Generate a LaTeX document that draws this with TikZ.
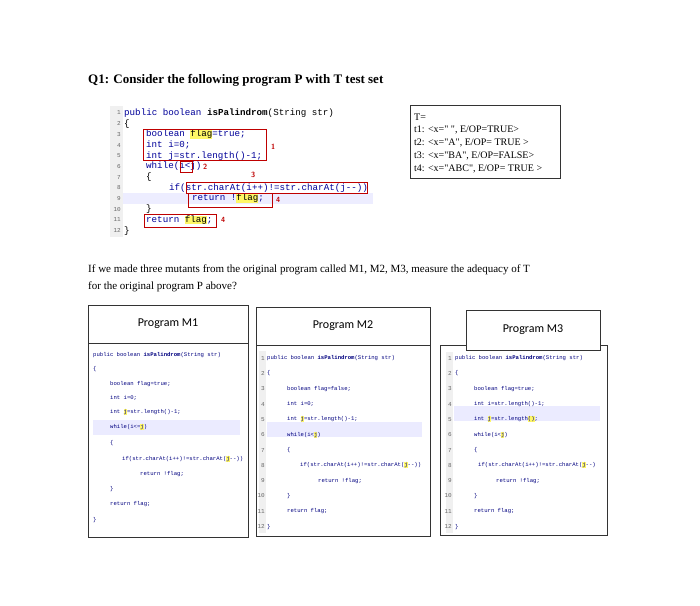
\documentclass[tikz,border=0pt]{standalone}
\usepackage{fontspec}
\setmainfont{Liberation Serif}
\newfontfamily\cod{Liberation Mono}
\newfontfamily\hdr{Carlito}
\begin{document}
\begin{tikzpicture}[x=1pt,y=-1pt,
  txt/.style={anchor=west,inner sep=0pt},
  tc/.style={txt,font=\cod\fontsize{9.2}{10}\selectfont},
  mc/.style={txt,font=\cod\fontsize{5.6}{7}\selectfont,text=blue!50!black},
  ln/.style={anchor=east,inner sep=0pt,font=\cod\fontsize{6}{7}\selectfont,text=gray!80!black},
  rb/.style={draw=red!75!black,line width=0.6pt},
  rl/.style={txt,font=\sffamily\bfseries\fontsize{7.5}{8}\selectfont,text=red!75!black},
  box/.style={draw=black!80,line width=0.6pt}]
\newcommand\kw[1]{\textcolor{blue!60!black}{#1}}
\newcommand\hy[1]{{\setlength\fboxsep{0pt}\colorbox{yellow!60}{#1}}}
\useasboundingbox (0,0) rectangle (700,605);
\fill[white] (0,0) rectangle (700,605);
\node[txt,font=\bfseries\fontsize{13}{15}\selectfont] (title) at (88,80) {Q1: Consider the following program P with T test set};
% top code
\fill[gray!12] (110,106) rectangle (123,237);
\fill[blue!7] (123,193) rectangle (373,204);
\foreach \i in {1,...,12}{\node[ln] (n\i) at (121,{113+10.7*(\i-1)}) {\i};}
\node[tc] (c1) at (124,113) {\kw{public boolean} \textbf{isPalindrom}(String str)};
\node[tc] (c2) at (124,123.7) {\{};
\node[tc] (c3) at (146,134.4) {\kw{boolean} \hy{flag}\kw{=true;}};
\node[tc] (c4) at (146,145.1) {\kw{int i=0;}};
\node[tc] (c5) at (146,155.8) {\kw{int j=str.length()-1;}};
\node[tc] (c6) at (146,166.5) {\kw{while(i<j)}};
\node[tc] (c7) at (146,177.2) {\{};
\node[tc] (c8) at (169,187.9) {\kw{if(str.charAt(i++)!=str.charAt(j{-}{-}))}};
\node[tc] (c9) at (192,198.6) {\kw{return !}\hy{flag}\kw{;}};
\node[tc] (c10) at (146,209.3) {\}};
\node[tc] (c11) at (146,220) {\kw{return} \hy{flag}\kw{;}};
\node[tc] (c12) at (124,230.7) {\}};
\draw[rb] (143,129) rectangle (266,160);
\node[rl] (l1) at (271,147) {1};
\draw[rb] (180,161) rectangle (192,172);
\node[rl] (l2) at (203,167) {2};
\node[rl] (l3) at (251,175) {3};
\draw[rb] (186,182.5) rectangle (367,193);
\draw[rb] (188,193) rectangle (272,207);
\node[rl] (l4) at (276,200) {4};
\draw[rb] (144,214) rectangle (216,227);
\node[rl] (l5) at (221,220) {4};
% T box
\draw[box] (410,105) rectangle (560,178);
\begin{scope}[every node/.style={txt,font=\fontsize{10}{11}\selectfont}]
\node (t0) at (414,117) {T=};
\node (t1) at (414,130) {t1: <x=\textquotedbl\ \textquotedbl, E/OP=TRUE>};
\node (t2) at (414,143) {t2: <x=\textquotedbl A\textquotedbl, E/OP= TRUE >};
\node (t3) at (414,156) {t3: <x=\textquotedbl BA\textquotedbl, E/OP=FALSE>};
\node (t4) at (414,169) {t4: <x=\textquotedbl ABC\textquotedbl, E/OP= TRUE >};
\end{scope}
\node[txt,font=\fontsize{11}{13}\selectfont] (p1) at (88,270) {If we made three mutants from the original program called M1, M2, M3, measure the adequacy of T};
\node[txt,font=\fontsize{11}{13}\selectfont] (p2) at (88,287) {for the original program P above?};
% M1
\draw[box] (88,305) rectangle (248,343);
\draw[box] (88,343) rectangle (248,537);
\node[font=\hdr\fontsize{12}{13}\selectfont] (h1) at (168,324) {Program M1};
\fill[blue!8] (93,420) rectangle (240,435);
\node[mc] (a1) at (93,355) {public boolean \textbf{isPalindrom}(String str)};
\node[mc] (a2) at (93,369) {\{};
\node[mc] (a3) at (110,384) {boolean flag=true;};
\node[mc] (a4) at (110,398) {int i=0;};
\node[mc] (a5) at (110,412) {int \hy{j}=str.length()-1;};
\node[mc] (a6) at (110,427) {while(i<=\hy{j})};
\node[mc] (a7) at (110,443) {\{};
\node[mc] (a8) at (122,459) {if(str.charAt(i++)!=str.charAt(\hy{j}{-}{-}))};
\node[mc] (a9) at (140,474) {return !flag;};
\node[mc] (a10) at (110,489) {\}};
\node[mc] (a11) at (110,504) {return flag;};
\node[mc] (a12) at (93,520) {\}};
% M2
\draw[box] (256,307) rectangle (430,345);
\draw[box] (256,345) rectangle (430,536);
\node[font=\hdr\fontsize{12}{13}\selectfont] (h2) at (343,326) {Program M2};
\fill[gray!12] (259,351) rectangle (266,533);
\fill[blue!8] (267,422) rectangle (422,437);
\foreach \i in {1,...,12}{\node[ln] (m\i) at (265,{343+15.3*\i}) {\i};}
\node[mc] (b1) at (267,358) {public boolean \textbf{isPalindrom}(String str)};
\node[mc] (b2) at (267,373) {\{};
\node[mc] (b3) at (287,389) {boolean flag=false;};
\node[mc] (b4) at (287,404) {int i=0;};
\node[mc] (b5) at (287,419) {int \hy{j}=str.length()-1;};
\node[mc] (b6) at (287,435) {while(i<\hy{j})};
\node[mc] (b7) at (287,450) {\{};
\node[mc] (b8) at (300,465) {if(str.charAt(i++)!=str.charAt(\hy{j}{-}{-}))};
\node[mc] (b9) at (318,481) {return !flag;};
\node[mc] (b10) at (287,496) {\}};
\node[mc] (b11) at (287,511) {return flag;};
\node[mc] (b12) at (267,527) {\}};
% M3
\draw[box] (440,345) rectangle (607,535);
\draw[box,fill=white] (466,310) rectangle (600,350);
\node[font=\hdr\fontsize{12}{13}\selectfont] (h3) at (533,330) {Program M3};
\fill[gray!12] (446,352) rectangle (453,533);
\fill[blue!8] (454,406) rectangle (600,421);
\foreach \i in {1,...,12}{\node[ln] (k\i) at (452,{343+15.3*\i}) {\i};}
\node[mc] (d1) at (455,358) {public boolean \textbf{isPalindrom}(String str)};
\node[mc] (d2) at (455,373) {\{};
\node[mc] (d3) at (474,389) {boolean flag=true;};
\node[mc] (d4) at (474,404) {int i=str.length()-1;};
\node[mc] (d5) at (474,419) {int \hy{j}=str.length\hy{()};};
\node[mc] (d6) at (474,435) {while(i<\hy{j})};
\node[mc] (d7) at (474,450) {\{};
\node[mc] (d8) at (478,465) {if(str.charAt(i++)!=str.charAt(\hy{j}{-}{-})};
\node[mc] (d9) at (496,481) {return !flag;};
\node[mc] (d10) at (474,496) {\}};
\node[mc] (d11) at (474,511) {return flag;};
\node[mc] (d12) at (455,527) {\}};
\end{tikzpicture}
\end{document}
